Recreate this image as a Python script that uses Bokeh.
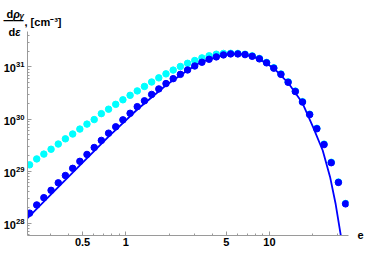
from bokeh.plotting import figure
from bokeh.models import (Range1d, FixedTicker, CustomJSTickFormatter, Title,
                          ColumnDataSource, LogAxis, LogTickFormatter)
from bokeh.embed import file_html
from bokeh.resources import INLINE

# ---- data ----
eps = [0.214, 0.240, 0.269, 0.302, 0.339, 0.380, 0.427, 0.479, 0.537, 0.603,
       0.676, 0.759, 0.851, 0.955, 1.072, 1.202, 1.349, 1.514, 1.698, 1.905,
       2.138, 2.399, 2.692, 3.020, 3.388, 3.802, 4.266, 4.786, 5.370, 6.026,
       6.761, 7.586, 8.511, 9.550, 10.72, 12.02, 13.49, 15.14, 16.98, 19.05,
       21.38, 23.99, 26.92, 30.20, 33.88]

blue_pts = [1.56e28, 2.24e28, 3.09e28, 4.27e28, 5.95e28, 8.23e28, 1.13e29, 1.54e29,
            2.09e29, 2.84e29, 3.89e29, 5.35e29, 7.10e29, 9.64e29, 1.29e30, 1.73e30,
            2.24e30, 2.97e30, 3.79e30, 4.80e30, 5.97e30, 7.21e30, 8.77e30, 1.045e31,
            1.233e31, 1.406e31, 1.562e31, 1.704e31, 1.781e31, 1.781e31, 1.727e31,
            1.604e31, 1.431e31, 1.201e31, 9.49e30, 7.21e30, 5.08e30, 3.38e30, 2.12e30,
            1.216e30, 6.51e29, 3.23e29, 1.45e29, 6.06e28, 2.35e28]

cyan_pts = [1.32e29, 1.715e29, 2.12e29, 2.63e29, 3.31e29, 4.17e29, 5.16e29, 6.42e29,
            7.99e29, 9.77e29, 1.27e30, 1.546e30, 1.916e30, 2.343e30, 2.852e30, 3.472e30,
            4.227e30, 5.145e30, 6.18e30, 7.37e30, 8.70e30, 1.022e31, 1.176e31, 1.329e31,
            1.495e31, 1.639e31, 1.757e31, 1.820e31, 1.83e31, 1.82e31, 1.76e31,
            1.635e31, 1.46e31, 1.225e31, 9.68e30, 7.35e30, 5.18e30, 3.45e30, 2.16e30,
            1.24e30, 6.64e29, 3.30e29, 1.48e29, 6.18e28, 2.39e28]

line_eps = [0.207, 0.303, 0.479, 0.759, 1.202, 1.905, 2.683, 3.171, 3.80, 4.575,
            5.37, 6.397, 7.586, 8.945, 10.72, 13.49, 16.98, 20.16, 23.49, 26.42,
            28.82, 31.39, 32.2]
line_val = [1.245e28, 3.63e28, 1.29e29, 4.59e29, 1.526e30, 4.455e30, 8.58e30, 1.14e31,
            1.406e31, 1.639e31, 1.781e31, 1.757e31, 1.604e31, 1.30e31, 9.49e30, 4.97e30,
            2.03e30, 6.89e29, 2.49e29, 7.74e28, 2.42e28, 5.79e27, 3.74e27]

x_ticks = [0.5, 1, 5, 10]
x_minor = [0.3, 0.4, 0.6, 0.7, 0.8, 0.9, 2, 3, 4, 6, 7, 8, 9, 20, 30]
y_ticks = [1e28, 1e29, 1e30, 1e31]
y_minor = [k * 10.0 ** n for n in range(27, 32) for k in range(2, 10)]
y_min, y_max = 5.8e27, 4.8e31

FONT = "Liberation Sans"
AX = "#9a9a9a"

p = figure(width=366, height=248, x_axis_type="log", y_axis_type="log",
           x_range=Range1d(0.207, 35.5), y_range=Range1d(y_min, y_max),
           output_backend="svg", toolbar_location=None,
           min_border_left=25, min_border_right=10, min_border_top=31,
           min_border_bottom=0)
p.outline_line_color = None
p.grid.visible = False
p.background_fill_color = "white"

for ax in (p.xaxis[0], p.yaxis[0]):
    ax.axis_line_color = AX
    ax.major_tick_line_color = AX
    ax.minor_tick_line_color = AX
    ax.major_tick_in = 4
    ax.major_tick_out = 0
    ax.minor_tick_in = 2
    ax.minor_tick_out = 0
    ax.major_label_text_font = FONT
    ax.major_label_text_font_style = "bold"
    ax.major_label_text_font_size = "11px"
    ax.major_label_text_color = "black"

p.xaxis[0].ticker = FixedTicker(ticks=x_ticks, minor_ticks=x_minor)
p.xaxis[0].formatter = CustomJSTickFormatter(code="return String(tick);")
p.xaxis[0].major_label_standoff = 2
p.yaxis[0].ticker = FixedTicker(ticks=y_ticks, minor_ticks=y_minor)
p.yaxis[0].formatter = LogTickFormatter()
p.yaxis[0].major_label_standoff = 3

# the "e" axis name, written as the single label of an invisible right axis
e_axis = LogAxis(ticker=FixedTicker(ticks=[y_min * 1.01], minor_ticks=[]),
                 formatter=CustomJSTickFormatter(code="return 'e';"),
                 axis_line_color=None, major_tick_line_color=None,
                 minor_tick_line_color=None, major_label_standoff=3,
                 major_label_text_font=FONT, major_label_text_font_style="bold",
                 major_label_text_font_size="11px", major_label_text_color="black")
p.add_layout(e_axis, "right")

src = ColumnDataSource(dict(eps=eps, blue=blue_pts, cyan=cyan_pts))
p.scatter("eps", "cyan", source=src, size=6.5, color="#00ffff")
p.scatter("eps", "blue", source=src, size=6.5, color="#0000ff")
p.line(line_eps, line_val, line_color="#0000ff", line_width=1.8)

# ---- y title (a fraction) outside the frame, built from stacked titles ----
H = {"11px": 14.8, "10px": 13.5, "8px": 11.2, "1px": 3.15}   # 2 + estimated text height


def ttl(text, offset, slot, size="11px", style="bold", align="left", valign="middle"):
    return Title(text=text, align=align, offset=offset, vertical_align=valign,
                 standoff=int(round(slot - H[size])), text_font=FONT,
                 text_font_size=size, text_font_style=style, text_color="black")


def spacer(slot):
    return ttl(" ", 0, slot, size="1px")


above = [
    ttl("d", -19, 0),
    ttl("\u03b5", -12.3, 0, style="bold italic"),
    spacer(10),
    ttl(", [cm\u207b\u00b3]", -3, 0),
    spacer(1),
    ttl("\u2014\u2014", -24, 0, size="10px"),
    spacer(5),
    ttl("\u03b3", -8, 0, size="8px", style="bold italic"),
    spacer(2),
    ttl("d", -21, 0),
    ttl("\u03c1", -14.3, 0, style="bold italic"),
    spacer(13),
]
for t in above:
    p.add_layout(t, "above")

open("out.html", "w").write(file_html(p, INLINE))
